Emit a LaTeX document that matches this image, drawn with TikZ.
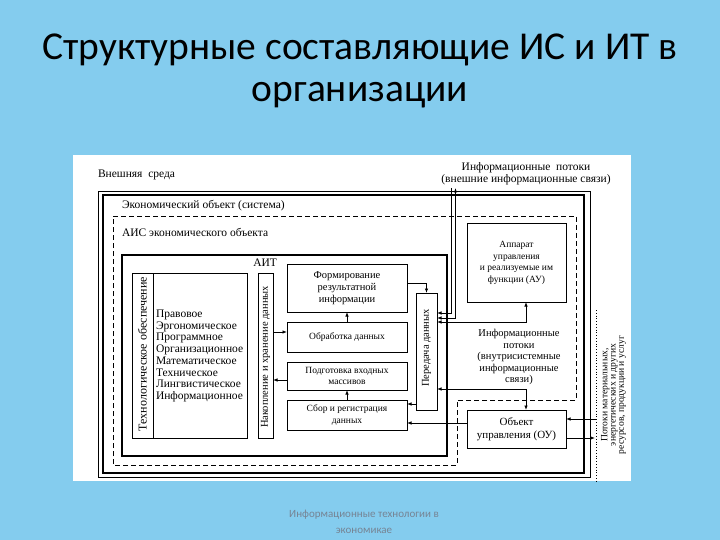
\documentclass[tikz,border=0pt]{standalone}
\usepackage{fontspec}
\setmainfont{Liberation Serif}
\newfontfamily\titlefont{Carlito}
\usetikzlibrary{arrows.meta}
\definecolor{slidebg}{RGB}{132,204,238}
\definecolor{footgray}{RGB}{118,132,148}
\begin{document}
\begin{tikzpicture}[x=1pt,y=-1pt,
  every node/.style={inner sep=0pt, outer sep=0pt},
  lbl/.style={font=\fontsize{11.5}{12}\selectfont, align=center},
  blk/.style={draw, line width=1pt, fill=white, align=center, font=\fontsize{9.5}{11.5}\selectfont},
  thinframe/.style={draw, line width=0.6pt},
  thickframe/.style={draw, line width=2pt},
  dashframe/.style={draw, line width=0.8pt, dash pattern=on 5pt off 3pt},
  arr/.style={-{Latex[length=4.5pt,width=3.5pt]}, line width=0.8pt},
  both/.style={{Latex[length=4.5pt,width=3.5pt]}-{Latex[length=4.5pt,width=3.5pt]}, line width=0.8pt}
]
\useasboundingbox (0,0) rectangle (720,540);
\fill[slidebg] (0,0) rectangle (720,540);
% title
\node[anchor=base, font=\titlefont\fontsize{39.5}{44}\selectfont] (t1) at (360,60) {Структурные составляющие ИС и ИТ в};
\node[anchor=base, font=\titlefont\fontsize{39.5}{44}\selectfont] (t2) at (360,102) {организации};
% footer
\node[anchor=base, text=footgray, font=\titlefont\fontsize{11}{12}\selectfont] (f1) at (364,517) {Информационные технологии в};
\node[anchor=base, text=footgray, font=\titlefont\fontsize{11}{12}\selectfont] (f2) at (364,533) {экономикае};
% white panel
\fill[white] (73,155) rectangle (631,481);
% frames
\draw[thinframe] (98,191) rectangle (590,477);
\draw[thickframe] (103,195) rectangle (584,473);
\draw[dashframe] (113,216) -- (576,216) -- (576,400) -- (457,400) -- (457,465) -- (113,465) -- cycle;
\draw[thickframe] (122,255) rectangle (447,456);
% labels
\node[lbl, anchor=west] (env) at (98,175) {Внешняя\ \ среда};
\node[lbl, anchor=west] (sys) at (122,206) {Экономический объект (система)};
\node[lbl, anchor=west] (ais) at (122,232) {АИС экономического объекта};
\node[lbl, anchor=east] (ait) at (277,263) {АИТ};
\node[lbl] (extlbl) at (526,174) {Информационные \ потоки\\(внешние информационные связи)};
\node[align=center, font=\fontsize{10.5}{11.5}\selectfont] (intlbl) at (519,357) {Информационные\\потоки\\(внутрисистемные\\информационные\\связи)};
% technological support
\node[blk, minimum width=115pt, minimum height=165pt] (tech) at (189.5,355.5) {};
\draw[line width=1pt] (153,273) -- (153,438);
\node[rotate=90, font=\fontsize{12}{12}\selectfont] (techlbl) at (142.5,354) {Технологическое обеспечение};
\node[anchor=west, align=left, font=\fontsize{11.5}{11.7}\selectfont] (techlist) at (156,356) {Правовое\\Эргономическое\\Программное\\Организационное\\Математическое\\Техническое\\Лингвистическое\\Информационное};
% storage
\node[blk, minimum width=15pt, minimum height=165pt] (stor) at (265.5,355.5) {};
\node[rotate=90, font=\fontsize{10.5}{10.5}\selectfont] (storlbl) at (265.5,357) {Накопление и хранение данных};
% middle column
\node[blk, minimum width=120pt, minimum height=48pt, font=\fontsize{10.5}{12}\selectfont] (form) at (347,288) {Формирование\\результатной\\информации};
\node[blk, minimum width=120pt, minimum height=30pt] (obr) at (347,337) {Обработка данных};
\node[blk, minimum width=120pt, minimum height=28pt] (podg) at (347,376) {Подготовка входных\\массивов};
\node[blk, minimum width=120pt, minimum height=30pt] (sbor) at (347,415) {Сбор и регистрация\\данных};
\node[blk, minimum width=21pt, minimum height=117pt] (per) at (426.5,351.5) {};
\node[rotate=90, font=\fontsize{10.5}{10.5}\selectfont] (perlbl) at (426.5,348) {Передача данных};
% right boxes
\node[blk, minimum width=99pt, minimum height=78pt] (au) at (516.5,263) {Аппарат\\управления\\и реализуемые им\\функции (АУ)};
\node[blk, minimum width=99pt, minimum height=38pt, font=\fontsize{11}{13}\selectfont] (ou) at (516.5,429) {Объект\\управления (ОУ)};
% resources
\coordinate (rtop) at (596,310);
\coordinate (rbot) at (596,481);
\draw[line width=0.8pt, dotted] (rtop) -- (rbot);
\node[align=center, rotate=90, font=\fontsize{9.6}{8.3}\selectfont] (reslbl) at (613.5,395) {Потоки материальных,\\энергетических и других\\ресурсов, продукции и услуг};
\coordinate (rin) at (596,419);
\coordinate (rout) at (595,438);
% connectors
\draw[arr] (obr.north) -- (form.south);
\draw[arr] (sbor.north) -- (podg.south);
\draw[arr] (stor.east |- 0,332) -- (obr.west |- 0,332);
\draw[arr] (podg.west |- 0,380) -- (stor.east |- 0,380);
\draw[arr] (form.east |- 0,283) -| (per.north);
\draw[arr] (per.west |- 0,404) -- (sbor.east |- 0,404);
\coordinate (ext1) at (451,188);
\coordinate (ext2) at (455.5,188);
\draw[arr] (ext1) |- (per.east |- 0,313);
\draw[both] (per.east |- 0,318) -| (ext2);
\draw[both] (per.east |- 0,322) -| (526,0 |- au.south);
\draw[both] (per.east |- 0,389) -| (526,0 |- ou.north);
\draw[arr] (ou.west |- 0,423) -- (sbor.east |- 0,423);
\draw[arr] (rin) -- (ou.east |- rin);
\draw[arr] (ou.east |- rout) -- (rout);
\end{tikzpicture}
\end{document}
